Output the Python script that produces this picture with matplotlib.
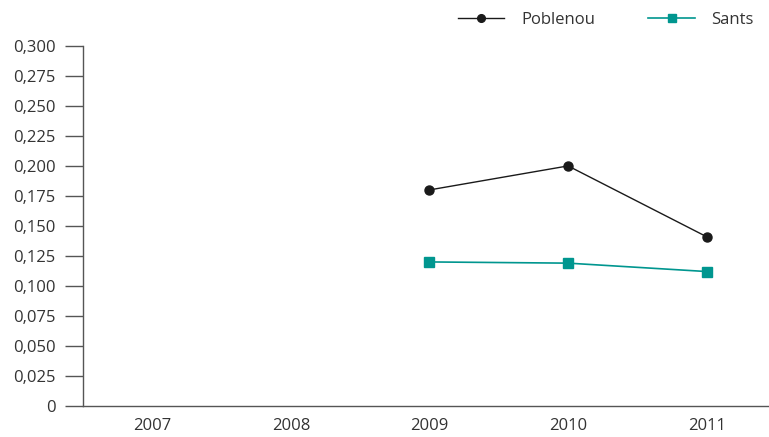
import matplotlib
matplotlib.use("Agg")
import matplotlib.pyplot as plt
from matplotlib.ticker import FuncFormatter

years = ["2007", "2008", "2009", "2010", "2011"]
poblenou = [None, None, 0.180, 0.200, 0.141]
sants = [None, None, 0.120, 0.119, 0.112]

plt.rcParams['font.family'] = ['Open Sans', 'DejaVu Sans']
text_color = "#333333"
fs = 12

fig = plt.figure(figsize=(7.69, 4.37), dpi=100)
ax = fig.add_axes([0.108, 0.071, 0.892, 0.824])

x = list(range(len(years)))
px = [i for i, v in zip(x, poblenou) if v is not None]
pv = [v for v in poblenou if v is not None]
sx = [i for i, v in zip(x, sants) if v is not None]
sv = [v for v in sants if v is not None]

ax.plot(px, pv, color="#1a1a1a", lw=1.0, marker="o", ms=6.5, label="Poblenou", clip_on=False)
ax.plot(sx, sv, color="#00968f", lw=1.2, marker="s", ms=6.5, label="Sants", clip_on=False)

ax.set_xlim(-0.5, 4.45)
ax.set_ylim(0, 0.300)
ax.set_yticks([i * 0.025 for i in range(13)])
ax.yaxis.set_major_formatter(FuncFormatter(lambda v, p: "0" if abs(v) < 1e-9 else f"{v:.3f}".replace(".", ",")))
ax.set_xticks(x)
ax.set_xticklabels(years)

for s in ["top", "right"]:
    ax.spines[s].set_visible(False)
for s in ["left", "bottom"]:
    ax.spines[s].set_color("#555555")
    ax.spines[s].set_linewidth(1.0)

ax.tick_params(axis="y", length=13, width=1.0, color="#555555", labelsize=fs, labelcolor=text_color, pad=7)
ax.tick_params(axis="x", length=0, labelsize=fs, labelcolor=text_color, pad=9)

leg = fig.legend(loc="upper right", bbox_to_anchor=(1.0, 1.008), ncol=2, frameon=False,
                 fontsize=fs, handlelength=2.8, columnspacing=3.2, handletextpad=1.0,
                 labelcolor=text_color, markerscale=0.85)

fig.savefig("out.png", dpi=100)
